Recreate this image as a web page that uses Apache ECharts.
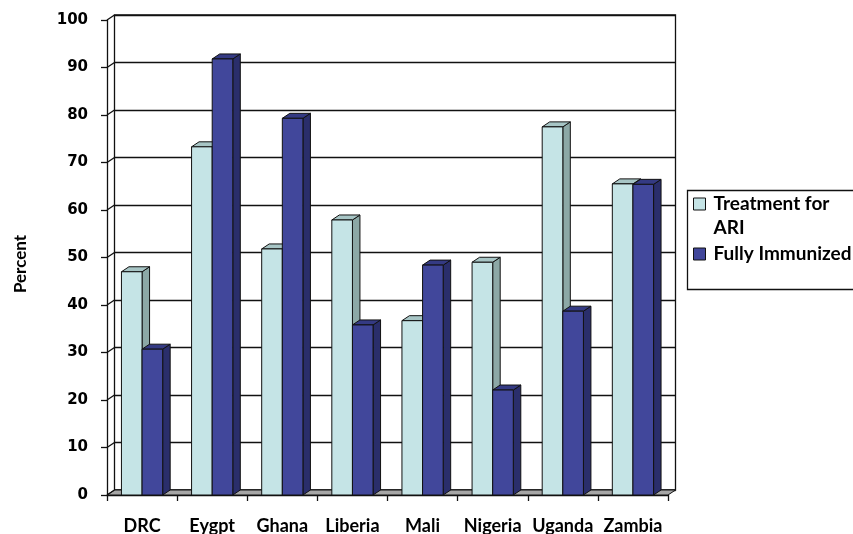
<!DOCTYPE html>
<html>
<head>
<meta charset="utf-8">
<script src="https://cdn.jsdelivr.net/npm/echarts@6/dist/echarts.min.js"></script>
<style>
  html, body { margin: 0; padding: 0; background: #ffffff; }
  #chart { width: 853px; height: 534px; }
</style>
</head>
<body>
<div id="chart"></div>
<script>
// Country categories along the floor of the chart
const countries = ['DRC', 'Eygpt', 'Ghana', 'Liberia', 'Mali', 'Nigeria', 'Uganda', 'Zambia'];

// Percent of children per country
const treatmentARI = [47.0, 73.3, 51.8, 57.9, 36.7, 49.0, 77.5, 65.5];
const fullyImmunized = [30.7, 91.8, 79.3, 35.8, 48.4, 22.1, 38.7, 65.4];

// Value axis ticks
const yTicks = [0, 10, 20, 30, 40, 50, 60, 70, 80, 90, 100];

const seriesNames = ['Treatment for ARI', 'Fully Immunized'];

// Depth of the pseudo-3D box (pixels, back wall offset)
const DX = 7.5;
const DY = -5;

const BAR_FRACTION = 0.294;

const palette = {
  light: { front: '#C5E4E6', top: '#A7C5C5', side: '#8CA8A6' },
  dark:  { front: '#41479B', top: '#343A83', side: '#2A2E6B' },
  floor: '#A6A6A6',
  edge: '#111111'
};

const PLOT = { left: 107, top: 20, width: 561, height: 475 };

const chart = echarts.init(document.getElementById('chart'), null, { renderer: 'canvas' });

// Draws one 3D column: front face, top cap and right-hand side face
function columnRenderer(colors, leftOfCenter) {
  return function (params, api) {
    const idx = api.value(0);
    const val = api.value(1);
    const top = api.coord([idx, val]);
    const base = api.coord([idx, 0]);
    const bw = api.size([1, 0])[0] * BAR_FRACTION;
    const x0 = leftOfCenter ? top[0] - bw : top[0];
    const yT = top[1];
    const yB = base[1];
    const stroke = { stroke: palette.edge, lineWidth: 1, lineJoin: 'round' };
    return {
      type: 'group',
      children: [
        {
          type: 'polygon',
          shape: { points: [[x0 + bw, yT], [x0 + bw + DX, yT + DY], [x0 + bw + DX, yB + DY], [x0 + bw, yB]] },
          style: Object.assign({ fill: colors.side }, stroke)
        },
        {
          type: 'polygon',
          shape: { points: [[x0, yT], [x0 + bw, yT], [x0 + bw + DX, yT + DY], [x0 + DX, yT + DY]] },
          style: Object.assign({ fill: colors.top }, stroke)
        },
        {
          type: 'rect',
          shape: { x: x0, y: yT, width: bw, height: yB - yT },
          style: Object.assign({ fill: colors.front }, stroke)
        }
      ]
    };
  };
}

// Floor slab and the short connectors between the front axis and the back wall
function frameRenderer(params, api) {
  const cs = params.coordSys;
  const x0 = cs.x, x1 = cs.x + cs.width;
  const yb = api.coord([0, 0])[1];
  const children = [
    {
      type: 'polygon',
      shape: { points: [[x0, yb], [x1, yb], [x1 + DX, yb + DY], [x0 + DX, yb + DY]] },
      style: { fill: palette.floor, stroke: palette.edge, lineWidth: 1 }
    }
  ];
  yTicks.forEach(function (t) {
    const y = api.coord([0, t])[1];
    children.push({
      type: 'line',
      shape: { x1: x0, y1: y, x2: x0 + DX, y2: y + DY },
      style: { stroke: palette.edge, lineWidth: 1.3 }
    });
  });
  return { type: 'group', children: children };
}

const option = {
  backgroundColor: '#ffffff',
  animation: false,
  grid: [
    {
      left: PLOT.left, top: PLOT.top, width: PLOT.width, height: PLOT.height,
      outerBoundsMode: 'none'
    },
    {
      left: PLOT.left + DX, top: PLOT.top + DY, width: PLOT.width, height: PLOT.height,
      outerBoundsMode: 'none',
      show: true, borderColor: palette.edge, borderWidth: 1.3, backgroundColor: 'transparent'
    }
  ],
  xAxis: [
    {
      gridIndex: 0,
      type: 'category',
      data: countries,
      boundaryGap: true,
      axisLine: { lineStyle: { color: palette.edge, width: 1.3 } },
      axisTick: { show: true, length: 6, lineStyle: { color: palette.edge, width: 1.3 } },
      axisLabel: {
        interval: 0,
        hideOverlap: false,
        margin: 22,
        color: '#000',
        fontFamily: 'Lato',
        fontWeight: 'bold',
        fontSize: 18
      }
    },
    { gridIndex: 1, type: 'category', data: countries, show: false }
  ],
  yAxis: [
    {
      gridIndex: 0,
      type: 'value',
      min: yTicks[0],
      max: yTicks[yTicks.length - 1],
      interval: 10,
      name: 'Percent',
      nameLocation: 'middle',
      nameRotate: 90,
      nameGap: 78,
      nameTextStyle: {
        color: '#000', fontFamily: 'Lato', fontWeight: 'bold', fontSize: 17,
        padding: [0, 13, 0, 0]
      },
      axisLine: { show: true, lineStyle: { color: palette.edge, width: 1.3 } },
      axisTick: { show: true, length: 6, lineStyle: { color: palette.edge, width: 1.3 } },
      splitLine: { show: false },
      axisLabel: {
        margin: 19,
        color: '#000',
        fontFamily: 'DejaVu Sans',
        fontWeight: 'bold',
        fontSize: 15
      }
    },
    {
      gridIndex: 1,
      type: 'value',
      min: yTicks[0],
      max: yTicks[yTicks.length - 1],
      interval: 10,
      axisLine: { show: false },
      axisTick: { show: false },
      axisLabel: { show: false },
      splitLine: { show: true, lineStyle: { color: palette.edge, width: 1.3 } }
    }
  ],
  legend: {
    orient: 'vertical',
    left: 693,
    top: 168,
    padding: 0,
    itemGap: 2,
    itemWidth: 12,
    itemHeight: 12,
    icon: 'rect',
    itemStyle: { borderColor: palette.edge, borderWidth: 1 },
    // the first entry wraps onto two lines, with an empty leading line so the
    // swatch sits beside its first line
    formatter: function (name) {
      return name === seriesNames[0] ? '\nTreatment for\nARI' : name;
    },
    textStyle: {
      color: '#000', fontFamily: 'Lato', fontWeight: 'bold', fontSize: 19, lineHeight: 24,
      padding: [0, 0, 0, 3]
    },
    data: seriesNames
  },
  graphic: [
    {
      type: 'rect',
      left: 685, top: 188,
      shape: { width: 200, height: 99 },
      style: { fill: 'none', stroke: palette.edge, lineWidth: 1.3 },
      z: 100
    }
  ],
  series: [
    {
      name: 'frame',
      type: 'custom',
      xAxisIndex: 0, yAxisIndex: 0,
      clip: false,
      silent: true,
      z: 1,
      data: [[0, 0]],
      renderItem: frameRenderer
    },
    {
      name: seriesNames[0],
      type: 'custom',
      xAxisIndex: 0, yAxisIndex: 0,
      clip: false,
      z: 3,
      itemStyle: { color: palette.light.front },
      data: countries.map(function (c, i) { return [i, treatmentARI[i]]; }),
      renderItem: columnRenderer(palette.light, true)
    },
    {
      name: seriesNames[1],
      type: 'custom',
      xAxisIndex: 0, yAxisIndex: 0,
      clip: false,
      z: 4,
      itemStyle: { color: palette.dark.front },
      data: countries.map(function (c, i) { return [i, fullyImmunized[i]]; }),
      renderItem: columnRenderer(palette.dark, false)
    }
  ]
};

chart.setOption(option);
</script>
</body>
</html>
